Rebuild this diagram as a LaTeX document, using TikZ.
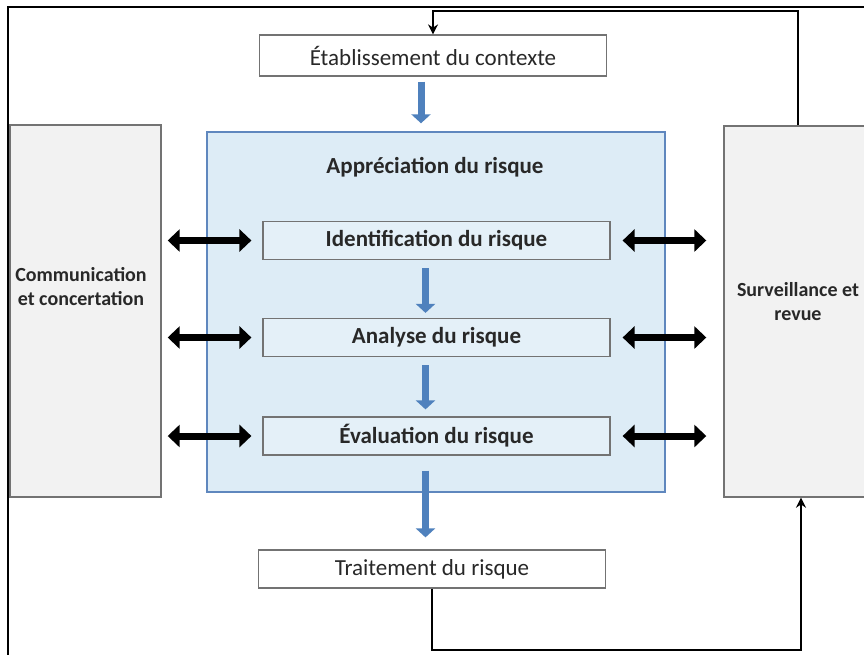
\documentclass[tikz,border=0pt]{standalone}
\usepackage{fontspec}
\setmainfont{Carlito}
\usetikzlibrary{arrows.meta}
\definecolor{bluefill}{RGB}{221,236,246}
\definecolor{innerfill}{RGB}{228,240,248}
\definecolor{blueline}{RGB}{95,135,190}
\definecolor{arrowblue}{RGB}{79,129,189}
\definecolor{sidefill}{RGB}{242,242,242}
\definecolor{boxgray}{RGB}{115,115,115}
\definecolor{txtgray}{RGB}{40,40,40}

\begin{document}
\begin{tikzpicture}[x=1pt,y=-1pt]
  \tikzstyle{every node}+=[inner sep=0pt]
  \tikzstyle{stepbox}=[draw=boxgray, line width=1.2pt, minimum width=347pt, minimum height=38pt, text=txtgray]
  \tikzstyle{outbox}=[stepbox, fill=white, font=\fontsize{23}{27}\selectfont]
  \tikzstyle{innerbox}=[stepbox, fill=innerfill, font=\fontsize{23}{27}\selectfont\bfseries]
  \tikzstyle{sidebox}=[draw=boxgray, line width=1.4pt, fill=sidefill]
  \tikzstyle{sidetext}=[text=txtgray, align=center, font=\fontsize{20}{24}\selectfont\bfseries]
  \tikzstyle{dblarrow}=[black, line width=7pt, arrows={Triangle[length=12pt,width=22pt]-Triangle[length=12pt,width=22pt]}]
  \tikzstyle{bluearrow}=[arrowblue, line width=7pt, arrows={-Triangle[length=9pt,width=19pt]}]
  \tikzstyle{feedback}=[black, line width=2.2pt]
  \useasboundingbox (0,0) rectangle (864,654);
  \clip (0,0) rectangle (864,654);
  % frame
  \draw [black, line width=2.4pt] (8,680) -- (8,7) -- (900,7);
  % side boxes
  \node [sidebox, minimum width=151pt, minimum height=372pt] (comm) at (85.5,311) {};
  \node [sidetext] (commtext) at (81,287) {Communication\\et concertation};
  \node [sidebox, minimum width=148pt, minimum height=371pt] (surv) at (798,311.5) {};
  \node [sidetext] (survtext) at (798,302) {Surveillance et\\revue};
  % risk assessment
  \node [draw=blueline, line width=1.4pt, fill=bluefill, minimum width=458pt, minimum height=360pt] (appr) at (436,312) {};
  \node [text=txtgray, font=\fontsize{23}{27}\selectfont\bfseries] (apprtext) at (435,167) {Appréciation du risque};
  \node [innerbox] (ident) at (436.5,240.5) {Identification du risque};
  \node [innerbox] (analyse) at (436.5,337.5) {Analyse du risque};
  \node [innerbox] (evalu) at (436.5,436) {Évaluation du risque};
  \node [outbox, minimum height=41pt] (ctx) at (433,55.5) {Établissement du contexte};
  \node [outbox] (trait) at (432,569) {Traitement du risque};
  % blue arrows
  \draw [bluearrow, shorten <=5pt, shorten >=8pt] ([xshift=-12pt]ctx.south) -- ([xshift=-12pt]ctx.south |- appr.north);
  \draw [bluearrow, shorten <=8pt, shorten >=5pt] ([xshift=-11pt]ident.south) -- ([xshift=-11pt]analyse.north);
  \draw [bluearrow, shorten <=8pt, shorten >=7pt] ([xshift=-11pt]analyse.south) -- ([xshift=-11pt]evalu.north);
  \draw [bluearrow, shorten <=15pt, shorten >=12pt] ([xshift=-11pt]evalu.south) -- ([xshift=-11pt]evalu.south |- trait.north);
  % exchanges with the side boxes
  \draw [dblarrow, shorten <=6pt, shorten >=11pt] (comm.east |- ident.west) -- (ident.west);
  \draw [dblarrow, shorten <=6pt, shorten >=11pt] (comm.east |- analyse.west) -- (analyse.west);
  \draw [dblarrow, shorten <=6pt, shorten >=11pt] (comm.east |- evalu.west) -- (evalu.west);
  \draw [dblarrow, shorten <=12pt, shorten >=17pt] (ident.east) -- (surv.west |- ident.east);
  \draw [dblarrow, shorten <=12pt, shorten >=17pt] (analyse.east) -- (surv.west |- analyse.east);
  \draw [dblarrow, shorten <=12pt, shorten >=17pt] (evalu.east) -- (surv.west |- evalu.east);
  % feedback loop
  \coordinate (looptop) at (433,11);
  \coordinate (loopbot) at (801,650);
  \draw [feedback, -{Stealth[length=10pt,width=10pt]}] (surv.north) |- (looptop) -- (ctx.north);
  \draw [feedback, -{Stealth[length=10pt,width=10pt]}] (trait.south) |- (loopbot) -- (loopbot |- surv.south);
\end{tikzpicture}
\end{document}
